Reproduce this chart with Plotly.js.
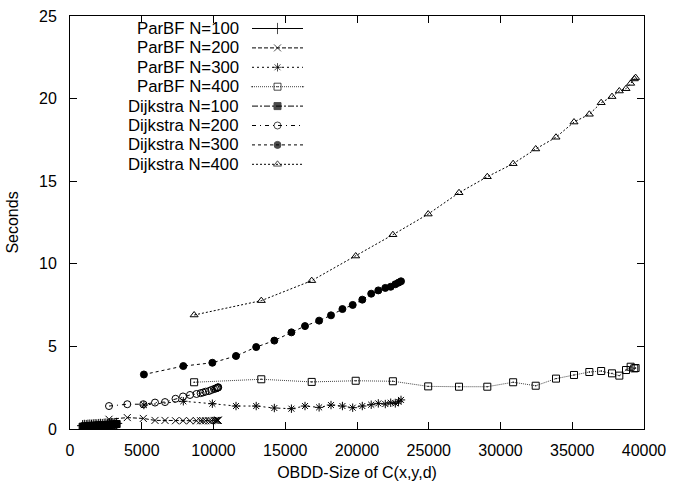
<!DOCTYPE html>
<html>
<head>
<meta charset="utf-8">
<script src="https://cdn.plot.ly/plotly-3.0.1.min.js"></script>
<style>html,body{margin:0;padding:0;background:#fff}#chart{width:673px;height:487px}</style>
</head>
<body>
<div id="chart"></div>
<script>
// ---- data ----
const X100 = [880, 1000, 1130, 1250, 1380, 1500, 1620, 1750, 1870, 2000, 2120, 2250, 2380, 2500, 2620, 2750, 2880, 3000, 3120, 3250];
const X200 = [2718, 3993, 5108, 5923, 6620, 7352, 7875, 8362, 8815, 9100, 9268, 9450, 9686, 9850, 10035, 10150, 10230, 10280, 10313, 10330];
const X300 = [5150, 7897, 9920, 11568, 12975, 14240, 15430, 16376, 17360, 18188, 18985, 19700, 20370, 20990, 21485, 21973, 22348, 22669, 22890, 23066];
const X400 = [8650, 13330, 16843, 19909, 22500, 24960, 27108, 29080, 30880, 32453, 33868, 35122, 36190, 37015, 37770, 38280, 38746, 39070, 39325, 39415];

const parbf100 = [0.20, 0.22, 0.21, 0.23, 0.24, 0.23, 0.25, 0.26, 0.25, 0.27, 0.28, 0.27, 0.29, 0.30, 0.29, 0.31, 0.32, 0.31, 0.33, 0.34];
const parbf200 = [0.59, 0.69, 0.64, 0.52, 0.52, 0.50, 0.50, 0.50, 0.50, 0.50, 0.50, 0.50, 0.50, 0.50, 0.52, 0.52, 0.52, 0.52, 0.53, 0.53];
const parbf300 = [1.45, 1.68, 1.53, 1.39, 1.39, 1.27, 1.23, 1.39, 1.31, 1.45, 1.39, 1.29, 1.39, 1.47, 1.55, 1.51, 1.59, 1.55, 1.65, 1.76];
const parbf400 = [2.83, 3.01, 2.85, 2.92, 2.89, 2.58, 2.56, 2.56, 2.83, 2.62, 3.05, 3.27, 3.45, 3.51, 3.37, 3.23, 3.57, 3.77, 3.67, 3.69];
const dijk100  = [0.14, 0.16, 0.15, 0.17, 0.19, 0.18, 0.20, 0.19, 0.21, 0.22, 0.21, 0.23, 0.24, 0.23, 0.25, 0.26, 0.27, 0.26, 0.28, 0.30];
const dijk200  = [1.39, 1.50, 1.50, 1.60, 1.63, 1.83, 1.97, 2.06, 2.12, 2.17, 2.21, 2.26, 2.30, 2.36, 2.42, 2.45, 2.48, 2.50, 2.51, 2.53];
const dijk300  = [3.30, 3.81, 4.01, 4.42, 4.96, 5.35, 5.85, 6.23, 6.56, 6.88, 7.26, 7.51, 7.83, 8.19, 8.39, 8.54, 8.61, 8.76, 8.86, 8.94];
const dijk400  = [6.90, 7.77, 8.98, 10.47, 11.76, 13.01, 14.30, 15.27, 16.06, 16.95, 17.66, 18.58, 19.05, 19.75, 20.12, 20.46, 20.60, 20.92, 21.19, 21.27];

const seriesNames = ["ParBF N=100", "ParBF N=200", "ParBF N=300", "ParBF N=400",
                     "Dijkstra N=100", "Dijkstra N=200", "Dijkstra N=300", "Dijkstra N=400"];
const xTicks = [0, 5000, 10000, 15000, 20000, 25000, 30000, 35000, 40000];
const yTicks = [0, 5, 10, 15, 20, 25];

// ---- styles ----
const styles = [
  {dash: "solid",              symbol: "cross-thin-open", size: 8},
  {dash: "4px,2px",            symbol: "x-thin-open",     size: 7},
  {dash: "2px,3px",            symbol: "asterisk-open",   size: 7},
  {dash: "1px,1px",            symbol: "square-open-dot", size: 7},
  {dash: "6px,2px,2px,2px",    symbol: "square",          size: 7},
  {dash: "4px,4px,1px,4px",    symbol: "circle-open",     size: 7},
  {dash: "3px,3px",            symbol: "circle",          size: 7},
  {dash: "2px,2px",            symbol: "triangle-up-open",size: 7}
];
const xs = [X100, X200, X300, X400, X100, X200, X300, X400];
const ys = [parbf100, parbf200, parbf300, parbf400, dijk100, dijk200, dijk300, dijk400];

const traces = [];
for (let i = 0; i < 8; i++) {
  const s = styles[i];
  traces.push({
    x: xs[i], y: ys[i], type: "scatter", mode: "lines+markers", showlegend: false,
    name: seriesNames[i],
    line: {color: i === 3 ? "#444" : "#000", width: 1, dash: s.dash},
    marker: {symbol: s.symbol, size: s.size, color: "#000", line: {color: "#000", width: 1}}
  });
}

// ---- custom gnuplot-style key (text left, sample right) ----
const PL = 70, PR = 29, PT = 16, PB = 58, W = 673, H = 487;
const plotW = W - PL - PR, plotH = H - PT - PB;
const keyTextRight = 240 - PL, keyLineL = 252 - PL, keyLineR = 303 - PL;
const keyRow0 = H - PB - 28.5, keyStep = 19.4;
const annotations = [];
for (let i = 0; i < 8; i++) {
  const s = styles[i];
  const yy = keyRow0 - i * keyStep;
  traces.push({
    x: [keyLineL, (keyLineL + keyLineR) / 2, keyLineR], y: [yy, yy, yy],
    xaxis: "x2", yaxis: "y2", type: "scatter", mode: "lines+markers", showlegend: false,
    hoverinfo: "skip",
    line: {color: i === 3 ? "#444" : "#000", width: 1, dash: s.dash},
    marker: {symbol: s.symbol, size: [0, s.size, 0], color: "#000", line: {color: "#000", width: 1}}
  });
  annotations.push({
    xref: "x2", yref: "y2", x: keyTextRight, y: yy, xanchor: "right", yanchor: "middle",
    text: seriesNames[i], showarrow: false, borderpad: 0, font: {size: 16.8, color: "#000"}
  });
}

const layout = {
  width: W, height: H,
  margin: {l: PL, r: PR, t: PT, b: PB},
  paper_bgcolor: "#fff", plot_bgcolor: "#fff",
  font: {family: "Liberation Sans, Arial, sans-serif", color: "#000", size: 16},
  showlegend: false,
  xaxis: {
    range: [0, 40000], tickvals: xTicks, ticktext: xTicks.map(String),
    ticks: "inside", ticklen: 7, tickcolor: "#000", tickwidth: 1,
    showline: true, linecolor: "#000", linewidth: 1, mirror: "allticks",
    showgrid: false, zeroline: false, ticklabelstandoff: 7,
    tickfont: {size: 16},
    title: {text: "OBDD-Size of C(x,y,d)", font: {size: 16}, standoff: 8}
  },
  yaxis: {
    range: [0, 25], tickvals: yTicks, ticktext: yTicks.map(String),
    ticks: "inside", ticklen: 7, tickcolor: "#000", tickwidth: 1,
    showline: true, linecolor: "#000", linewidth: 1, mirror: "allticks",
    showgrid: false, zeroline: false, ticklabelstandoff: 9,
    tickfont: {size: 16},
    title: {text: "Seconds", font: {size: 16}, standoff: 16}
  },
  xaxis2: {overlaying: "x", range: [0, plotW], visible: false, fixedrange: true},
  yaxis2: {overlaying: "y", range: [0, plotH], visible: false, fixedrange: true},
  annotations: annotations
};

Plotly.newPlot("chart", traces, layout, {displayModeBar: false, staticPlot: true});
</script>
</body>
</html>
